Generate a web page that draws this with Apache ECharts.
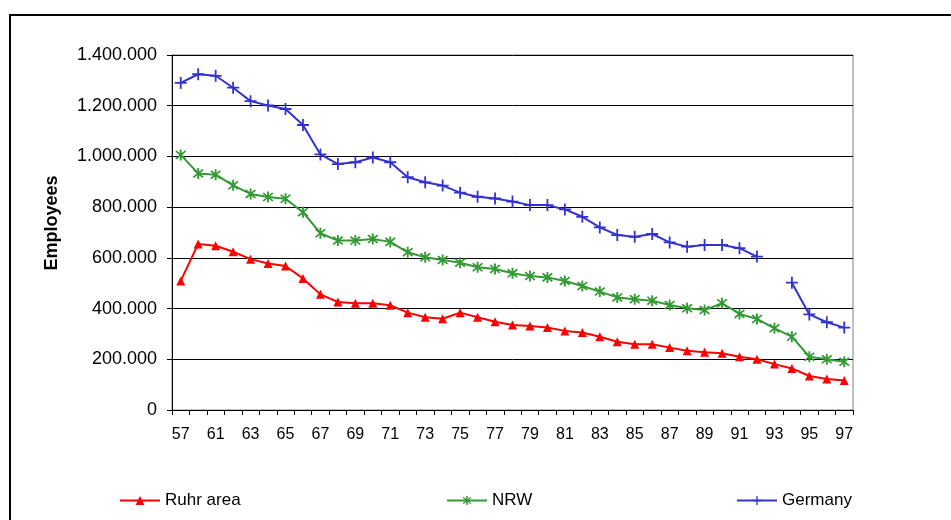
<!DOCTYPE html>
<html>
<head>
<meta charset="utf-8">
<script src="https://cdn.jsdelivr.net/npm/echarts@6/dist/echarts.min.js"></script>
<style>html,body{margin:0;padding:0;background:#fff}#c{width:951px;height:520px}</style>
</head>
<body>
<div id="c"></div>
<script>
const years = ['57','60','61','62','63','64','65','66','67','68','69','70','71','72','73','74','75','76','77','78','79','80','81','82','83','84','85','86','87','88','89','90','91','92','93','94','95','96','97'];
const ruhr = [509000,655000,648000,624000,595000,578000,568000,519000,456000,426000,421000,421000,413000,384000,366000,360000,384000,366000,348000,335000,331000,325000,312000,306000,289000,269000,259000,259000,246000,234000,228000,224000,210000,200000,181000,164000,134000,122000,116000];
const nrw = [1006000,933000,928000,886000,852000,840000,833000,780000,697000,668000,668000,674000,663000,622000,602000,592000,581000,563000,556000,539000,528000,523000,509000,489000,467000,444000,437000,431000,414000,401000,394000,421000,379000,359000,322000,289000,210000,200000,190000];
const germany = [1290000,1324000,1318000,1271000,1218000,1201000,1187000,1124000,1008000,970000,977000,996000,977000,918000,898000,885000,857000,841000,834000,822000,808000,808000,791000,762000,720000,690000,683000,694000,661000,644000,651000,651000,638000,605000,null,502000,377000,346000,325000];
const seriesNames = ['Ruhr area','NRW','Germany'];
const yAxisTitle = 'Employees';
const yTicks = {min:0, max:1400000, interval:200000};

const plusPath = 'path://M4.25,0h1.5v4.25h4.25v1.5h-4.25v4.25h-1.5v-4.25h-4.25v-1.5h4.25z';
const starPath = 'path://M4.3,0h1.4v10h-1.4z M0.9,1.9 L1.9,0.9 L9.1,8.1 L8.1,9.1z M8.1,0.9 L9.1,1.9 L1.9,9.1 L0.9,8.1z';

function fmt(v){ return String(v).replace(/\B(?=(\d{3})+(?!\d))/g,'.'); }
const font = '"Liberation Sans", Arial, sans-serif';

const chart = echarts.init(document.getElementById('c'));
const legendBase = {top:492, padding:0, itemWidth:40, itemHeight:11, itemGap:5, textStyle:{fontFamily:font, fontSize:17, color:'#000'}};
chart.setOption({
  animation:false,
  backgroundColor:'#fff',
  textStyle:{fontFamily:font},
  graphic:[
    {type:'rect', shape:{x:10, y:15, width:1000, height:600}, style:{fill:'none', stroke:'#000', lineWidth:2}, silent:true},
    {type:'text', x:52, y:223, rotation:Math.PI/2, silent:true,
     style:{text:yAxisTitle, font:'bold 18px "Liberation Sans", Arial, sans-serif', fill:'#000', align:'center', verticalAlign:'middle'}}
  ],
  grid:{left:172, right:98, top:55, bottom:110, show:true, borderColor:'#808080', borderWidth:1, containLabel:false},
  legend:[
    Object.assign({}, legendBase, {left:119, data:[seriesNames[0]]}),
    Object.assign({}, legendBase, {left:446, data:[seriesNames[1]]}),
    Object.assign({}, legendBase, {left:736, data:[seriesNames[2]]})
  ],
  xAxis:{
    type:'category', data:years, boundaryGap:true,
    axisLine:{lineStyle:{color:'#000', width:1}},
    axisTick:{show:true, interval:0, length:5, lineStyle:{color:'#000'}},
    axisLabel:{interval:1, color:'#000', fontSize:16, fontFamily:font, margin:17},
    splitLine:{show:false}
  },
  yAxis:{
    type:'value', min:yTicks.min, max:yTicks.max, interval:yTicks.interval,
    axisLine:{show:true, lineStyle:{color:'#000', width:1}},
    axisTick:{show:true, length:5, lineStyle:{color:'#000'}},
    axisLabel:{color:'#000', fontSize:18, fontFamily:font, margin:15, formatter:fmt},
    splitLine:{show:true, lineStyle:{color:'#000', width:1}}
  },
  series:[
    {name:seriesNames[0], type:'line', data:ruhr, symbol:'triangle', symbolSize:9, showAllSymbol:true,
     lineStyle:{color:'#FF0000', width:2}, itemStyle:{color:'#FF0000'}},
    {name:seriesNames[1], type:'line', data:nrw, symbol:starPath, symbolSize:11, showAllSymbol:true,
     lineStyle:{color:'#339933', width:2}, itemStyle:{color:'#339933'}},
    {name:seriesNames[2], type:'line', data:germany, symbol:plusPath, symbolSize:12, showAllSymbol:true, connectNulls:false,
     lineStyle:{color:'#3333CC', width:2}, itemStyle:{color:'#3333CC'}}
  ]
});
</script>
</body>
</html>
